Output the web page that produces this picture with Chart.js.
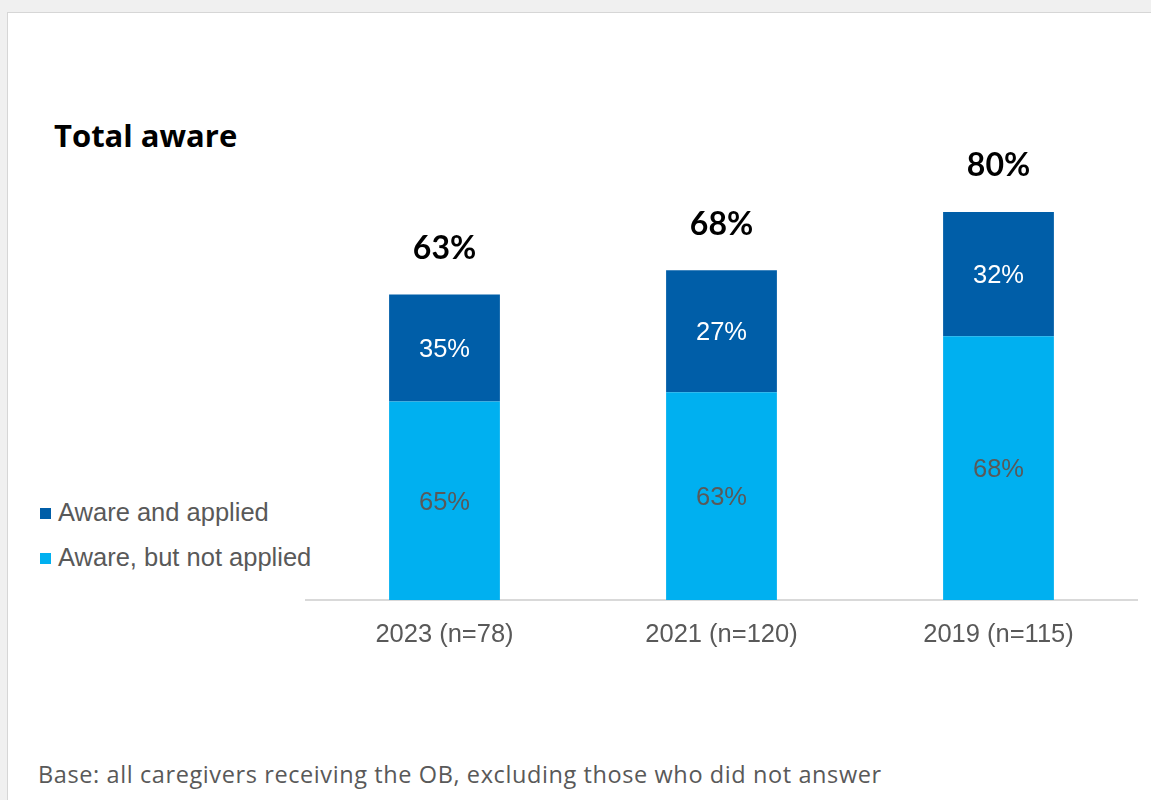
<!DOCTYPE html>
<html>
<head>
<meta charset="utf-8">
<script src="https://cdn.jsdelivr.net/npm/chart.js@4.4.1/dist/chart.umd.min.js"></script>
<style>
  html, body { margin: 0; padding: 0; width: 1151px; height: 800px; overflow: hidden; background: #f0f0f0; }
  .panel { position: absolute; left: 7px; top: 12px; width: 1170px; height: 820px; background: #fff; border: 1px solid #d6d6d6; }
  #chart { position: absolute; left: 0; top: 0; }
  .title { position: absolute; left: 54px; top: 119px; font: bold 31px "Open Sans", sans-serif; line-height: 32px; color: #000; }
  .legend { position: absolute; left: 40px; top: 496px; font: 25.5px "Liberation Sans", Arial, sans-serif; color: #595959; }
  .legend div { height: 45px; line-height: 32px; white-space: nowrap; }
  .legend span { display: inline-block; width: 11px; height: 11px; margin-right: 7px; vertical-align: 2px; }
  .note { position: absolute; left: 38px; top: 763px; font: 23.5px "Open Sans", sans-serif; letter-spacing: 0.6px; line-height: 23px; color: #595959; white-space: nowrap; }
</style>
</head>
<body>
<div class="panel"></div>
<div class="title">Total aware</div>
<div class="legend" id="legend"></div>
<div class="note">Base: all caregivers receiving the OB, excluding those who did not answer</div>
<canvas id="chart" width="1151" height="800"></canvas>
<script>
// Categories and values
const years = ['2023 (n=78)', '2021 (n=120)', '2019 (n=115)'];
const totalAware = [63, 68, 80];
const notAppliedShare = [65, 63, 68];
const appliedShare = [35, 27, 32];

// bar segments are shares of the total aware
const notAppliedSeg = totalAware.map((t, i) => t * notAppliedShare[i] / 100);
const appliedSeg = totalAware.map((t, i) => t - notAppliedSeg[i]);

const datasets = [
  { label: 'Aware, but not applied', data: notAppliedSeg, shares: notAppliedShare,
    backgroundColor: '#00b0f0', labelColor: '#595959' },
  { label: 'Aware and applied', data: appliedSeg, shares: appliedShare,
    backgroundColor: '#005ea8', labelColor: '#ffffff' }
];

// Legend (top series first)
const legend = document.getElementById('legend');
datasets.slice().reverse().forEach(ds => {
  const row = document.createElement('div');
  row.innerHTML = `<span style="background:${ds.backgroundColor}"></span>${ds.label}`;
  legend.appendChild(row);
});

// Segment labels + total above each bar
const barLabels = {
  id: 'barLabels',
  afterDatasetsDraw(chart) {
    const ctx = chart.ctx;
    ctx.save();
    ctx.textAlign = 'center';
    ctx.textBaseline = 'middle';
    ctx.font = '25.5px "Liberation Sans", Arial, sans-serif';
    chart.data.datasets.forEach((ds, i) => {
      chart.getDatasetMeta(i).data.forEach((bar, j) => {
        ctx.fillStyle = ds.labelColor;
        ctx.fillText(ds.shares[j] + '%', bar.x, (bar.y + bar.base) / 2 + 2);
      });
    });
    const top = chart.getDatasetMeta(chart.data.datasets.length - 1);
    ctx.font = 'bold 32px Lato, sans-serif';
    ctx.fillStyle = '#000';
    top.data.forEach((bar, j) => ctx.fillText(totalAware[j] + '%', bar.x, bar.y - 46));
    ctx.restore();
  }
};

new Chart(document.getElementById('chart'), {
  type: 'bar',
  data: { labels: years, datasets },
  options: {
    responsive: false,
    animation: false,
    layout: { padding: { left: 306, right: 14, top: 115, bottom: 140 } },
    datasets: { bar: { categoryPercentage: 1, barPercentage: 0.4 } },
    plugins: { legend: { display: false }, tooltip: { enabled: false } },
    scales: {
      x: {
        stacked: true,
        grid: { display: false },
        border: { display: true, color: '#d9d9d9', width: 2 },
        ticks: { color: '#595959', padding: 12, font: { family: '"Liberation Sans", Arial, sans-serif', size: 25.5 } },
        afterFit: axis => { axis.height = 60; }
      },
      y: { stacked: true, display: false, min: 0, max: 100 }
    }
  },
  plugins: [barLabels]
});
</script>
</body>
</html>
